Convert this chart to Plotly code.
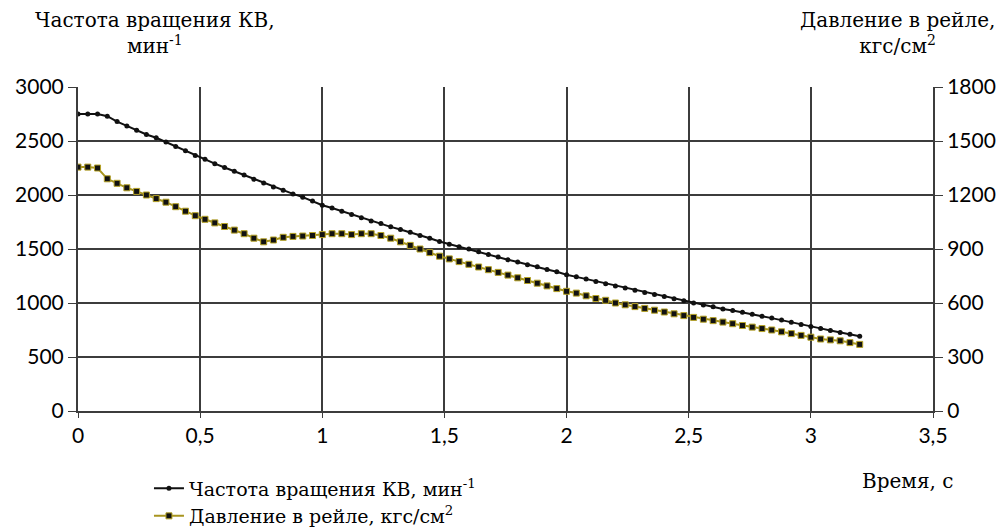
import plotly.graph_objects as go

# Time samples, s
time_s = [
    0.00, 0.04, 0.08, 0.12, 0.16, 0.20, 0.24, 0.28, 0.32, 0.36,
    0.40, 0.44, 0.48, 0.52, 0.56, 0.60, 0.64, 0.68, 0.72, 0.76,
    0.80, 0.84, 0.88, 0.92, 0.96, 1.00, 1.04, 1.08, 1.12, 1.16,
    1.20, 1.24, 1.28, 1.32, 1.36, 1.40, 1.44, 1.48, 1.52, 1.56,
    1.60, 1.64, 1.68, 1.72, 1.76, 1.80, 1.84, 1.88, 1.92, 1.96,
    2.00, 2.04, 2.08, 2.12, 2.16, 2.20, 2.24, 2.28, 2.32, 2.36,
    2.40, 2.44, 2.48, 2.52, 2.56, 2.60, 2.64, 2.68, 2.72, 2.76,
    2.80, 2.84, 2.88, 2.92, 2.96, 3.00, 3.04, 3.08, 3.12, 3.16,
    3.20,
]

# Crankshaft speed, min^-1 (left axis)
shaft_speed = [
    2750, 2750, 2750, 2730, 2680, 2640, 2600, 2560, 2530, 2490,
    2450, 2410, 2365, 2330, 2290, 2255, 2220, 2185, 2145, 2110,
    2075, 2045, 2010, 1980, 1945, 1905, 1880, 1850, 1820, 1790,
    1760, 1735, 1705, 1680, 1655, 1625, 1600, 1570, 1545, 1520,
    1500, 1475, 1450, 1425, 1400, 1380, 1355, 1335, 1310, 1290,
    1262, 1242, 1222, 1198, 1178, 1158, 1138, 1118, 1098, 1078,
    1060, 1040, 1020, 1000, 982, 965, 945, 930, 915, 895,
    878, 860, 842, 822, 802, 782, 765, 745, 728, 710,
    692,
]

# Rail pressure, kgf/cm^2 (right axis)
rail_pressure = [
    1355, 1355, 1350, 1290, 1265, 1240, 1220, 1200, 1180, 1160,
    1135, 1110, 1085, 1065, 1045, 1025, 1005, 985, 960, 940,
    950, 965, 970, 972, 975, 980, 985, 985, 980, 985,
    985, 975, 960, 940, 920, 900, 880, 860, 845, 830,
    815, 800, 785, 770, 755, 740, 725, 710, 695, 680,
    665, 655, 640, 625, 615, 600, 590, 580, 570, 560,
    550, 540, 530, 520, 510, 502, 494, 485, 475, 466,
    458, 450, 440, 430, 420, 410, 400, 395, 390, 380,
    370,
]

x_ticks = [0, 0.5, 1, 1.5, 2, 2.5, 3, 3.5]
x_tick_text = ["0", "0,5", "1", "1,5", "2", "2,5", "3", "3,5"]
speed_ticks = [0, 500, 1000, 1500, 2000, 2500, 3000]
pressure_ticks = [0, 300, 600, 900, 1200, 1500, 1800]

TEXT_FONT = "DejaVu Serif"
TICK_FONT = "Lato"
GRID = "#3c3c3c"

fig = go.Figure()

fig.add_trace(go.Scatter(
    x=time_s, y=shaft_speed,
    name="Частота вращения КВ, мин<sup>-1</sup>",
    mode="lines+markers",
    line=dict(color="#111111", width=2),
    marker=dict(symbol="circle", size=5, color="#111111"),
))

fig.add_trace(go.Scatter(
    x=time_s, y=rail_pressure,
    name="Давление в рейле, кгс/см<sup>2</sup>",
    yaxis="y2",
    mode="lines+markers",
    line=dict(color="#a8951f", width=2),
    marker=dict(symbol="square", size=6, color="#111111",
                line=dict(color="#b5a226", width=1)),
))

tick_font = dict(family=TICK_FONT, size=21, color="black")

fig.update_layout(
    width=1000, height=532,
    margin=dict(l=78, r=67, t=87, b=121, autoexpand=False),
    paper_bgcolor="white", plot_bgcolor="white",
    font=dict(family=TEXT_FONT, size=20, color="black"),
    xaxis=dict(
        range=[0, 3.5], tickvals=x_ticks, ticktext=x_tick_text,
        tickfont=tick_font,
        showgrid=True, gridcolor=GRID, gridwidth=1.5,
        showline=True, linecolor=GRID, linewidth=2,
        ticks="outside", ticklen=5, tickcolor=GRID,
        zeroline=False,
    ),
    yaxis=dict(
        range=[0, 3000], tickvals=speed_ticks,
        tickfont=tick_font,
        showgrid=True, gridcolor=GRID, gridwidth=1.5,
        showline=True, linecolor=GRID, linewidth=2,
        ticks="outside", ticklen=8, tickcolor=GRID,
        zeroline=False,
    ),
    yaxis2=dict(
        range=[0, 1800], tickvals=pressure_ticks,
        tickfont=tick_font,
        overlaying="y", side="right",
        showgrid=False,
        showline=True, linecolor=GRID, linewidth=2,
        ticks="outside", ticklen=8, tickcolor=GRID,
        zeroline=False,
    ),
    legend=dict(
        x=0.083, y=-0.18, xanchor="left", yanchor="top",
        font=dict(family=TEXT_FONT, size=19),
        bgcolor="rgba(0,0,0,0)", tracegroupgap=0,
    ),
    annotations=[
        dict(text="Частота вращения КВ,<br>мин<sup>-1</sup>",
             xref="paper", yref="paper", x=0.09, y=1.25,
             xanchor="center", yanchor="top", showarrow=False,
             font=dict(family=TEXT_FONT, size=20)),
        dict(text="Давление в рейле,<br>кгс/см<sup>2</sup>",
             xref="paper", yref="paper", x=0.958, y=1.25,
             xanchor="center", yanchor="top", showarrow=False,
             font=dict(family=TEXT_FONT, size=20)),
        dict(text="Время, с",
             xref="paper", yref="paper", x=0.97, y=-0.215,
             xanchor="center", yanchor="middle", showarrow=False,
             font=dict(family=TEXT_FONT, size=20)),
    ],
)

fig.write_html("out.html")
